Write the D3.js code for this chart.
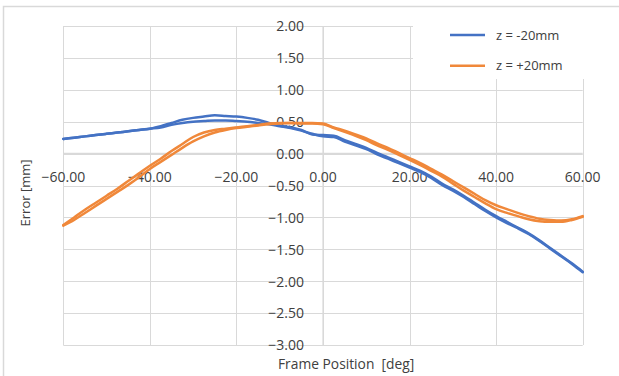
<!DOCTYPE html>
<html>
<head>
<meta charset="utf-8">
<script src="https://cdn.jsdelivr.net/npm/d3@7"></script>
<style>
  html, body { margin: 0; padding: 0; background: #fff; }
  svg { display: block; }
  text { font-family: "Open Sans", "Noto Sans", sans-serif; fill: #404040; }
</style>
</head>
<body>
<svg id="chart" width="619" height="376"></svg>
<script>
// Frame position sweep (deg), measured on the way out and on the way back
const angles = [-60, -57.5, -55, -52.5, -50, -47.5, -45, -42.5, -40, -37.5, -35, -32.5, -30, -27.5, -25, -22.5,
  -20, -17.5, -15, -12.5, -10, -7.5, -5, -2.5, 0, 2.5, 5, 7.5, 10, 12.5, 15, 17.5, 20, 22.5, 25, 27.5, 30,
  32.5, 35, 37.5, 40, 42.5, 45, 47.5, 50, 52.5, 55, 57.5, 60];

// z = -20mm
const minusOut = [0.23, 0.25, 0.27, 0.29, 0.31, 0.33, 0.35, 0.37, 0.39, 0.43, 0.48, 0.53, 0.56, 0.58, 0.60, 0.59,
  0.58, 0.56, 0.53, 0.48, 0.44, 0.41, 0.37, 0.30, 0.29, 0.28, 0.21, 0.15, 0.09, 0.01, -0.06, -0.13, -0.20, -0.27, -0.36, -0.47, -0.56,
  -0.66, -0.77, -0.88, -0.98, -1.07, -1.16, -1.25, -1.36, -1.48, -1.60, -1.72, -1.85];
const minusBack = [0.23, 0.25, 0.27, 0.29, 0.31, 0.33, 0.35, 0.37, 0.39, 0.41, 0.45, 0.48, 0.50, 0.51, 0.52, 0.52,
  0.51, 0.50, 0.48, 0.46, 0.43, 0.40, 0.36, 0.31, 0.27, 0.26, 0.19, 0.13, 0.07, -0.01, -0.08, -0.15, -0.22, -0.29, -0.38, -0.49, -0.58,
  -0.68, -0.79, -0.90, -1.00, -1.09, -1.17, -1.26, -1.37, -1.49, -1.61, -1.73, -1.86];

// z = +20mm
const plusOut = [-1.12, -1.00, -0.88, -0.77, -0.66, -0.55, -0.43, -0.31, -0.19, -0.08, 0.04, 0.15, 0.26, 0.33, 0.37, 0.39,
  0.41, 0.43, 0.45, 0.47, 0.48, 0.48, 0.48, 0.48, 0.47, 0.41, 0.36, 0.30, 0.24, 0.16, 0.09, 0.01, -0.07, -0.15, -0.24, -0.33, -0.43,
  -0.53, -0.63, -0.73, -0.81, -0.87, -0.93, -0.98, -1.02, -1.04, -1.05, -1.03, -0.98];
const plusBack = [-1.13, -1.04, -0.93, -0.82, -0.71, -0.60, -0.49, -0.37, -0.24, -0.13, -0.02, 0.09, 0.19, 0.27, 0.33, 0.37,
  0.40, 0.42, 0.44, 0.46, 0.47, 0.48, 0.47, 0.47, 0.46, 0.40, 0.34, 0.28, 0.21, 0.13, 0.06, -0.02, -0.10, -0.18, -0.27, -0.36, -0.47,
  -0.58, -0.68, -0.78, -0.87, -0.93, -0.98, -1.03, -1.06, -1.07, -1.07, -1.04, -0.99];

const seriesNames = ["z = -20mm", "z = +20mm"];
const seriesColors = ["#4472C4", "#F0883A"];

const xTicks = [-60, -40, -20, 0, 20, 40, 60];
const yTicks = [2, 1.5, 1, 0.5, 0, -0.5, -1, -1.5, -2, -2.5, -3];

const svg = d3.select("#chart");
const W = 619, H = 376;

// outer chart frame
svg.append("path")
  .attr("d", "M3.5," + (H + 2) + " V6.5 H" + (W + 2))
  .attr("fill", "none").attr("stroke", "#d9d9d9").attr("stroke-width", 1.5);

const x = d3.scaleLinear().domain([-60, 60]).range([63.3, 582.7]);
const y = d3.scaleLinear().domain([-3, 2]).range([345, 26]);

// gridlines
const grid = svg.append("g");
grid.selectAll("line.h").data(yTicks).join("line")
  .attr("x1", x(-60)).attr("x2", x(60))
  .attr("y1", d => Math.round(y(d)) + 0.5).attr("y2", d => Math.round(y(d)) + 0.5)
  .attr("stroke", "#d9d9d9").attr("stroke-width", 1);
grid.selectAll("line.v").data(xTicks).join("line")
  .attr("y1", y(2)).attr("y2", y(-3))
  .attr("x1", d => Math.round(x(d)) + 0.5).attr("x2", d => Math.round(x(d)) + 0.5)
  .attr("stroke", "#d9d9d9").attr("stroke-width", 1);

// axes crossing at the origin
svg.append("line").attr("x1", x(-60)).attr("x2", x(60)).attr("y1", y(0)).attr("y2", y(0))
  .attr("stroke", "#d9d9d9").attr("stroke-width", 1.8);
svg.append("line").attr("x1", x(0)).attr("x2", x(0)).attr("y1", y(2)).attr("y2", y(-3))
  .attr("stroke", "#d9d9d9").attr("stroke-width", 1.2);

// tick labels
const fmt = d3.format(".2f");
svg.append("g").selectAll("text").data(yTicks).join("text")
  .attr("x", x(0) - 19).attr("y", d => y(d) + 5.3)
  .attr("text-anchor", "end").attr("font-size", 14)
  .text(d => fmt(d));
svg.append("g").selectAll("text").data(xTicks).join("text")
  .attr("x", d => x(d)).attr("y", y(0) + 28)
  .attr("text-anchor", "middle").attr("font-size", 14)
  .text(d => fmt(d));

// data curves: outbound sweep and return sweep for each setting
const line = d3.line().x(d => x(d[0])).y(d => y(d[1])).curve(d3.curveMonotoneX);
const loops = [[minusOut, minusBack], [plusOut, plusBack]];
loops.forEach((pair, i) => {
  pair.forEach(vals => {
    svg.append("path").attr("d", line(angles.map((a, k) => [a, vals[k]])))
      .attr("fill", "none").attr("stroke", seriesColors[i]).attr("stroke-width", 2.5)
      .attr("stroke-linejoin", "round").attr("stroke-linecap", "round");
  });
});

// legend
svg.append("rect").attr("x", 413).attr("y", 9).attr("width", 200).attr("height", 70).attr("fill", "#fff");
const legend = svg.append("g");
seriesNames.forEach((name, i) => {
  const ly = 35 + i * 30.7;
  legend.append("line").attr("x1", 450).attr("x2", 485).attr("y1", ly).attr("y2", ly)
    .attr("stroke", seriesColors[i]).attr("stroke-width", 2.5);
  legend.append("text").attr("x", 496).attr("y", ly + 4.5).attr("font-size", 13).text(name);
});

// axis titles
svg.append("text").attr("x", 278).attr("y", 369).attr("font-size", 13.8)
  .attr("xml:space", "preserve").style("white-space", "pre")
  .text("Frame Position  [deg]");
svg.append("text").attr("transform", "translate(30,193) rotate(-90)")
  .attr("text-anchor", "middle").attr("font-size", 13)
  .text("Error [mm]");
</script>
</body>
</html>
